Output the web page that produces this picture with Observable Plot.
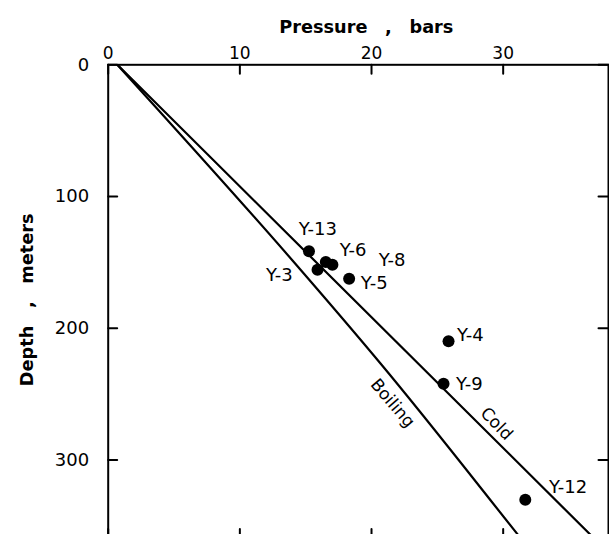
<!DOCTYPE html>
<html><head><meta charset="utf-8">
<script src="https://cdn.jsdelivr.net/npm/d3@7"></script>
<script src="https://cdn.jsdelivr.net/npm/@observablehq/plot@0.6"></script>
<style>html,body{margin:0;padding:0;background:#fff;overflow:hidden;}</style>
</head><body><div id="chart"></div>
<script>
// Wells: pressure (bars) vs depth (m)
const wells    = ["Y-13", "Y-6", "Y-8", "Y-3", "Y-5", "Y-4", "Y-9", "Y-12"];
const pressure = [15.25, 16.53, 17.03, 15.9, 18.3, 25.85, 25.47, 31.68];
const depth    = [141.5, 149.8, 151.9, 155.7, 162.5, 209.9, 242.2, 330.3];

// Label anchor points (data units)
const labelPressure = [14.47, 17.58, 20.55, 14.02, 19.19, 26.49, 26.41, 33.48];
const labelDepth    = [125.1, 140.6, 148.6, 160.0, 165.7, 205.3, 242.7, 320.6];
const labelSide     = ["start", "start", "start", "end", "start", "start", "start", "start"];

// Reference curves
const coldDepth       = [0, 362];
const coldPressure    = [0.7, 37.15];
const boilingDepth    = [0, 148.6, 227, 356.6, 362];
const boilingPressure = [0.7, 14.0, 20.7, 31.1, 31.53];

const curveNames   = ["Boiling", "Cold"];
const curveLabelP  = [21.6, 29.5];
const curveLabelD  = [257, 272.6];
const curveAngle   = [49.5, 45.8];

const xTicks = [0, 10, 20, 30];
const yTicks = [0, 100, 200, 300];
const xTitle = "Pressure\u2003,\u2003bars";
const yTitle = "Depth\u2003,\u2003meters";

const points = wells.map((w, i) => ({w, p: pressure[i], d: depth[i]}));
const labels = wells.map((w, i) => ({w, p: labelPressure[i], d: labelDepth[i], side: labelSide[i]}));
const cold = coldDepth.map((d, i) => ({d, p: coldPressure[i]}));
const boiling = boilingDepth.map((d, i) => ({d, p: boilingPressure[i]}));
const curveLabels = curveNames.map((t, i) => ({t, p: curveLabelP[i], d: curveLabelD[i], a: curveAngle[i]}));

const font = "DejaVu Sans";
// straight tick segment for inward-pointing ticks
const tickShape = {draw(context, l) { context.moveTo(0, 0); context.lineTo(0, -l); }};
const tickOpts = {shape: tickShape, anchor: "start", stroke: "#000", strokeWidth: 2};

const chart = Plot.plot({
  width: 609,
  height: 540,
  marginLeft: 107.7,
  marginRight: 1,
  marginTop: 64.3,
  marginBottom: 1.6,
  style: {fontFamily: font, background: "#fff", color: "#000"},
  x: {domain: [0, 38], axis: null},
  y: {domain: [0, 360], reverse: true, axis: null},
  marks: [
    Plot.line(boiling, {x: "p", y: "d", curve: "monotone-y", stroke: "#000", strokeWidth: 2.2, clip: true}),
    Plot.line(cold, {x: "p", y: "d", stroke: "#000", strokeWidth: 2.2, clip: true}),
    Plot.dot(points, {x: "p", y: "d", r: 6, fill: "#000", stroke: "none"}),
    Plot.text(labels.filter(l => l.side === "start"), {x: "p", y: "d", text: "w", textAnchor: "start", fontSize: 18, fill: "#000"}),
    Plot.text(labels.filter(l => l.side === "end"), {x: "p", y: "d", text: "w", textAnchor: "end", fontSize: 18, fill: "#000"}),
    Plot.text([curveLabels[0]], {x: "p", y: "d", text: "t", rotate: curveLabels[0].a, fontSize: 17, fill: "#000"}),
    Plot.text([curveLabels[1]], {x: "p", y: "d", text: "t", rotate: curveLabels[1].a, fontSize: 17, fill: "#000"}),
    // tick labels
    Plot.axisX(xTicks, {anchor: "top", tickSize: 0, tickPadding: 6, label: null, fontSize: 17}),
    Plot.axisY(yTicks, {anchor: "left", tickSize: 0, tickPadding: 19, label: null, fontSize: 18}),
    // inward ticks on all four sides
    Plot.vector(xTicks, {x: d => d, frameAnchor: "top", length: 9, rotate: 180, ...tickOpts}),
    Plot.vector(xTicks, {x: d => d, frameAnchor: "bottom", length: 10, rotate: 0, ...tickOpts}),
    Plot.vector(yTicks, {y: d => d, frameAnchor: "left", length: 9, rotate: 90, ...tickOpts}),
    Plot.vector(yTicks, {y: d => d, frameAnchor: "right", length: 10, rotate: -90, ...tickOpts}),
    Plot.frame({stroke: "#000", strokeWidth: 2}),
    Plot.text([xTitle], {frameAnchor: "top", textAnchor: "middle", lineAnchor: "middle", dx: 8, dy: -37.7, fontSize: 17.7, fontWeight: "bold", fill: "#000"}),
    Plot.text([yTitle], {frameAnchor: "left", textAnchor: "middle", lineAnchor: "middle", dx: -80.7, dy: -2, rotate: -90, fontSize: 17.7, fontWeight: "bold", fill: "#000"})
  ]
});
document.getElementById("chart").appendChild(chart);
</script>
</body></html>
